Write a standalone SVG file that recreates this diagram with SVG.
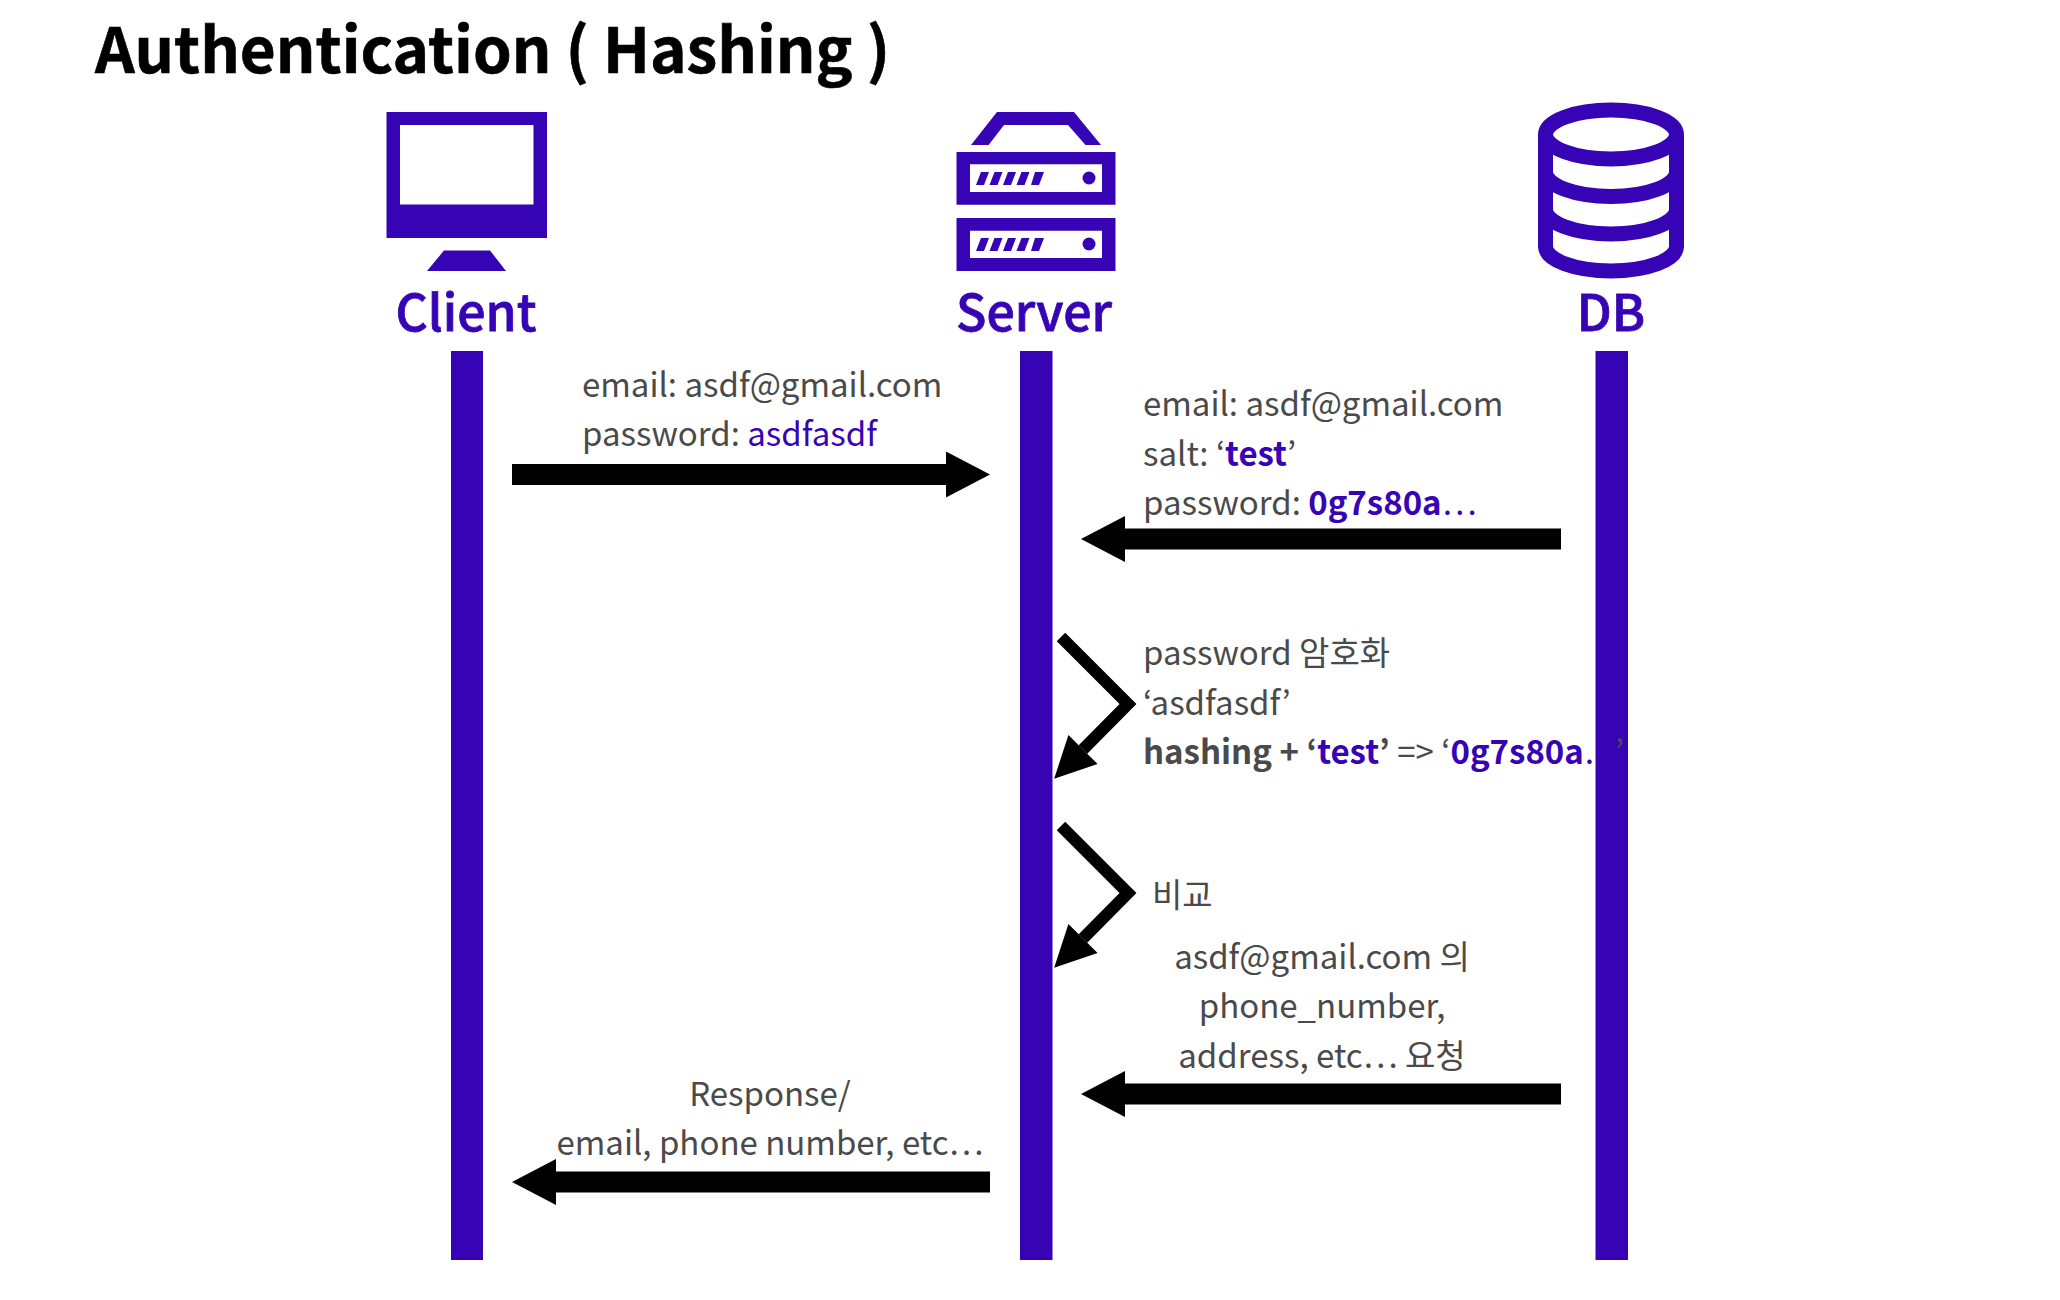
<svg xmlns="http://www.w3.org/2000/svg" width="2060" height="1300" viewBox="0 0 2060 1300">
<style>
text{font-family:"Noto Sans CJK KR","Noto Sans",sans-serif}
.t{font-size:33px;fill:#4a4a4a}
.c{text-anchor:middle}
.name{font-size:50px;font-weight:500;fill:#3604b5;stroke:#3604b5;stroke-width:0.8;text-anchor:middle}
.p{fill:#3604b5}
.b{font-weight:700}
.life{fill:#3604b5}
.straight{stroke:#000;stroke-width:21;fill:none;marker-end:url(#bigHead)}
.bent{stroke:#000;stroke-width:12;fill:none;marker-end:url(#smallHead)}
</style>
<defs>
<marker id="bigHead" markerUnits="userSpaceOnUse" markerWidth="44" markerHeight="46" refX="0" refY="23" orient="auto" overflow="visible"><path d="M0 0L44 23L0 46Z" fill="#000"/></marker>
<marker id="smallHead" markerUnits="userSpaceOnUse" markerWidth="41" markerHeight="41" refX="0" refY="20.5" orient="auto" overflow="visible"><path d="M0 0L41 20.5L0 41Z" fill="#000"/></marker>
</defs>
<rect width="2060" height="1300" fill="#fff"/>
<text id="title" x="95" y="73" font-size="62" font-weight="700" fill="#000" stroke="#000" stroke-width="0.6">Authentication ( Hashing )</text>
<g id="client">
<path class="p" fill-rule="evenodd" d="M386.500 112H547V238H386.500ZM400 125V204.500H533.500V125Z"/>
<path class="p" d="M444 250.500H490L506 271H427Z"/>
<text class="name" x="466" y="331">Client</text>
<rect class="life" x="451" y="351" width="32" height="909"/>
</g>
<g id="server">
<path class="p" d="M997 112H1074L1101 145H1085.500L1068 125H1004L988.600 145H971Z"/>
<path class="p" fill-rule="evenodd" d="M956.500 152H1115.500V204.700H956.500ZM970 164.300V192H1102V164.300Z"/>
<path class="p" fill-rule="evenodd" d="M956.500 218H1115.500V271H956.500ZM970 230.700V258H1102V230.700Z"/>
<path class="p" d="M981 172h8l-5 13h-8zM994.500 172h8l-5 13h-8zM1008 172h8l-5 13h-8zM1021.500 172h8l-5 13h-8zM1035 172h9l-5 13h-8zM981 238h8l-5 13h-8zM994.500 238h8l-5 13h-8zM1008 238h8l-5 13h-8zM1021.500 238h8l-5 13h-8zM1035 238h9l-5 13h-8z"/>
<circle class="p" cx="1089" cy="178" r="6.500"/>
<circle class="p" cx="1089" cy="244" r="6.500"/>
<text class="name" x="1034" y="331">Server</text>
<rect class="life" x="1020" y="351" width="32.500" height="909"/>
</g>
<g id="db">
<path fill="none" stroke="#3604b5" stroke-width="15" d="M1545.500 134.500V246.500A65.500 24.500 0 0 0 1676.500 246.500V134.500M1545.500 134.500A65.500 24.500 0 0 1 1676.500 134.500A65.500 24.500 0 0 1 1545.500 134.500ZM1545.500 172A65.500 24.500 0 0 0 1676.500 172M1545.500 209.500A65.500 24.500 0 0 0 1676.500 209.500"/>
<text class="name" x="1611" y="331">DB</text>
<rect class="life" x="1595.500" y="351" width="32.500" height="909"/>
</g>
<g id="connectors">
<path class="straight" d="M512 474.500H946"/>
<path class="straight" d="M1561 539H1125"/>
<path class="straight" d="M1561 1094H1125"/>
<path class="straight" d="M990 1182H556"/>
<path class="bent" d="M1061 637L1128 704L1083 749.500"/>
<path class="bent" d="M1061 826L1128 893L1083 938.500"/>
</g>
<g id="labels">
<text class="t" x="582" y="397">email: asdf@gmail.com</text>
<text class="t" x="582" y="446">password: <tspan class="p">asdfasdf</tspan></text>
<text class="t" x="1143" y="416">email: asdf@gmail.com</text>
<text class="t" x="1143" y="466">salt: ‘<tspan class="p b">test</tspan>’</text>
<text class="t" x="1143" y="515">password: <tspan class="p b">0g7s80a</tspan><tspan class="p">…</tspan></text>
<text class="t" x="1143" y="665">password 암호화</text>
<text class="t" x="1143" y="715">‘asdfasdf’</text>
<text class="t" x="1143" y="764"><tspan class="b">hashing + ‘</tspan><tspan class="p b">test</tspan><tspan class="b">’</tspan> =&gt; ‘<tspan class="p b">0g7s80a</tspan><tspan class="p">…</tspan>’</text>
<text class="t" x="1152" y="907">비교</text>
<text class="t c" x="1322" y="969">asdf@gmail.com 의</text>
<text class="t c" x="1322" y="1018">phone_number,</text>
<text class="t c" x="1322" y="1068">address, etc… 요청</text>
<text class="t c" x="770" y="1106">Response/</text>
<text class="t c" x="770" y="1155">email, phone number, etc…</text>
</g>
</svg>
